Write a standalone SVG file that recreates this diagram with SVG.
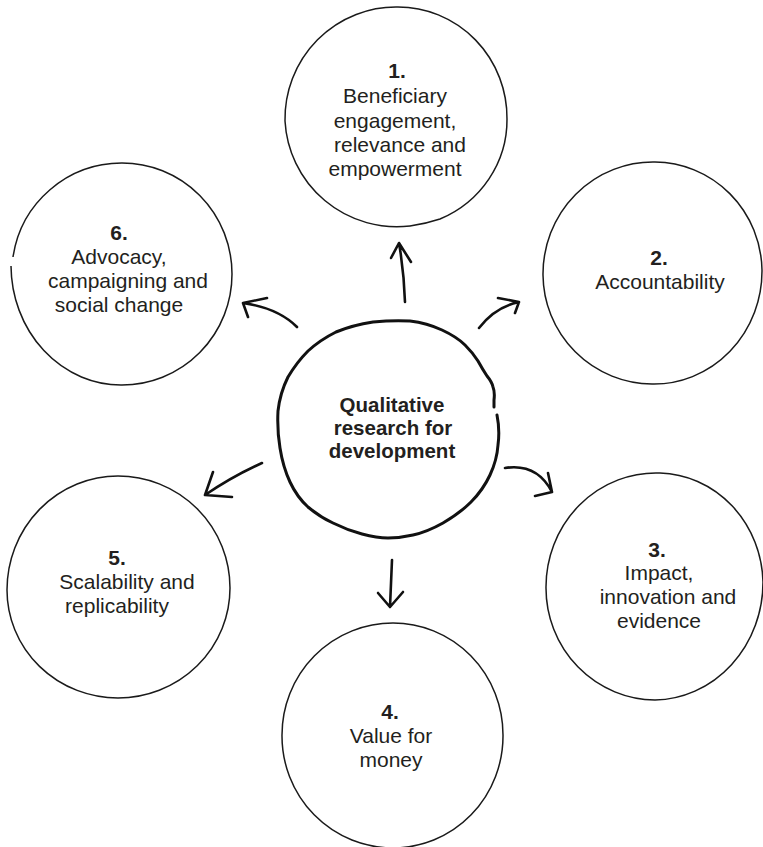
<svg xmlns="http://www.w3.org/2000/svg" width="763" height="847" viewBox="0 0 763 847">
<style>
.ring{fill:none;stroke:#1a1a1a;stroke-width:1.5;stroke-linejoin:round}
.core{fill:none;stroke:#111;stroke-width:3;stroke-linecap:round;stroke-linejoin:round}
.arrow{fill:none;stroke:#111;stroke-width:2.6;stroke-linecap:round;stroke-linejoin:round}
text{font-family:"Liberation Sans",Arial,sans-serif;font-size:21px;fill:#231f20;text-anchor:middle}
.num{font-weight:bold}
.ct{font-weight:bold;font-size:20.5px}
</style>
<rect width="763" height="847" fill="#fff"/>
<g id="connectors">
<path class="arrow" d="M405,302 Q404,272 399,243 M391,258 L399,243 L411,262"/>
<path class="arrow" d="M479,328 Q495,307 519,302 M498,298 L519,302 L515,313"/>
<path class="arrow" d="M297,327 Q278,308 243,303 M267,298 L243,303 L248,317"/>
<path class="arrow" d="M262,463 Q233,476 205,495 M213,472 L205,495 L232,497"/>
<path class="arrow" d="M505,468 Q537,463 552,492 M548,473 L552,492 L535,496"/>
<path class="arrow" d="M392,560 Q391,585 390,607 M378,593 L390,607 L403,592"/>
</g>
<g id="center">
<path class="core" d="M497,415 Q500,430 498,445 Q497,460 490,475 Q483,490 471,502 Q460,513 443,523 Q427,532 413,535 Q400,538 388,538 Q377,538 362,534 Q347,530 333,523 Q320,517 308,507 Q297,497 290,482 Q283,467 280,448 Q277,430 278,411 Q280,393 288,377 Q297,362 308,351 Q320,340 336,332 Q353,325 373,322 Q393,320 410,321 Q427,323 442,330 Q457,337 465,345 Q473,353 478,361 Q483,370 487,376 Q492,382 493,387 Q495,392 494,400 L494,407"/>
<text class="ct" x="392" y="412">Qualitative</text>
<text class="ct" x="393" y="435">research for</text>
<text class="ct" x="392" y="458">development</text>
</g>
<g id="node1">
<path class="ring" d="M285,121 A111,112 0 0 1 398,7 A109,111 0 0 1 507,119 A111,108 0 0 1 440,219 Q425,224 410,226 A112,112 0 0 1 285,121 Z"/>
<text class="num" x="397" y="78">1.</text>
<text x="395" y="103">Beneficiary</text>
<text x="395" y="128">engagement,</text>
<text x="400" y="152">relevance and</text>
<text x="395" y="176">empowerment</text>
</g>
<g id="node2">
<path class="ring" d="M543,275 A110,112 0 0 1 655,162 A108,110 0 0 1 762,270 A108,113 0 0 1 652,384 A110,110 0 0 1 543,275 Z"/>
<text class="num" x="659" y="265">2.</text>
<text x="660" y="289">Accountability</text>
</g>
<g id="node3">
<path class="ring" d="M546,588 A110,114 0 0 1 660,473 A106,112 0 0 1 763,582 A110,118 0 0 1 655,700 A110,112 0 0 1 546,588 Z"/>
<text class="num" x="657" y="557">3.</text>
<text x="659" y="580">Impact,</text>
<text x="668" y="604">innovation and</text>
<text x="659" y="628">evidence</text>
</g>
<g id="node4">
<path class="ring" d="M282,735 A111,112 0 0 1 393,623 A110,112 0 0 1 503,735 A110,112 0 0 1 393,848 A111,112 0 0 1 282,735 Z"/>
<text class="num" x="390" y="719">4.</text>
<text x="391" y="743">Value for</text>
<text x="391" y="767">money</text>
</g>
<g id="node5">
<path class="ring" d="M7,590 A111,114 0 0 1 118,476 A112,112 0 0 1 230,588 A112,110 0 0 1 118,698 A111,108 0 0 1 7,590 Z"/>
<text class="num" x="117" y="565">5.</text>
<text x="127" y="589">Scalability and</text>
<text x="117" y="613">replicability</text>
</g>
<g id="node6">
<path class="ring" d="M13,257 A110,110 0 0 1 122,163 A110,111 0 0 1 232,274 A110,111 0 0 1 122,385 A110,120 0 0 1 11,266"/>
<text class="num" x="119" y="240">6.</text>
<text x="119" y="264">Advocacy,</text>
<text x="128" y="288">campaigning and</text>
<text x="119" y="312">social change</text>
</g>
</svg>
